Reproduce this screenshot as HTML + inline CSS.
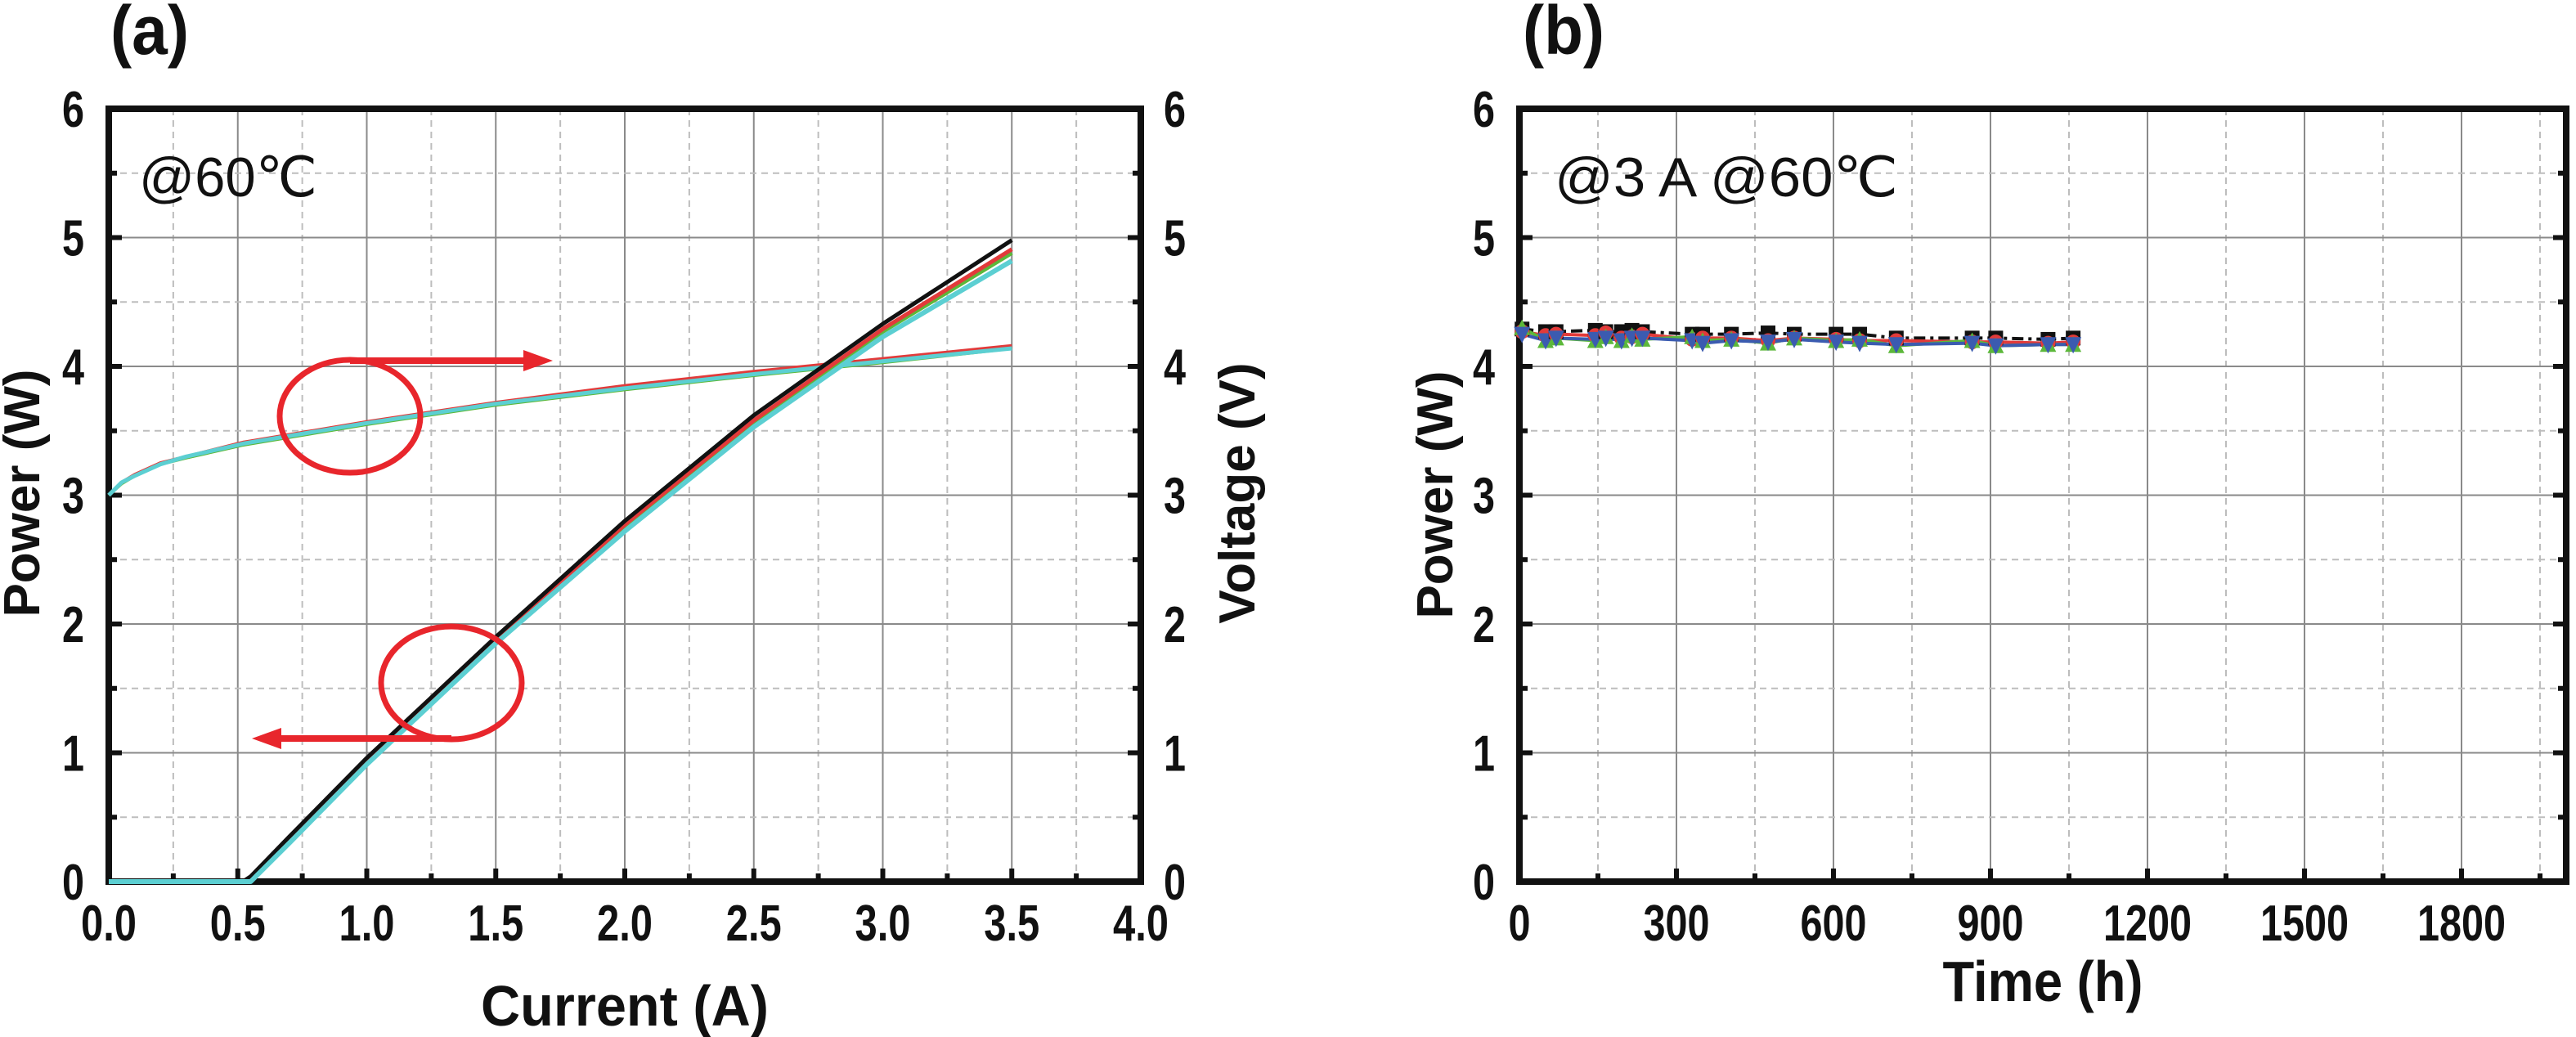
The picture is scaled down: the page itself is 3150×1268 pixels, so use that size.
<!DOCTYPE html>
<html><head><meta charset="utf-8"><style>
html,body{margin:0;padding:0;background:#fff}
svg{display:block}
text{font-family:"Liberation Sans Narrow","Liberation Sans",sans-serif;font-weight:bold;fill:#111}
</style></head><body>
<svg id="fig" width="3150" height="1268" viewBox="0 0 3150 1268" xmlns="http://www.w3.org/2000/svg">
<g id="pa"></g>
<g id="pb"></g>
</svg>
<script>
// Panel (a) data
const aCurrent = [0,0.05,0.1,0.2,0.3,0.5,0.52,0.55,0.7,1.0,1.5,2.0,2.5,3.0,3.5];
const aPowerBlack = [0,0,0,0,0,0,0,0.04,0.35,0.96,1.9,2.8,3.62,4.33,4.98];
const aPowerRed   = [0,0,0,0,0,0,0,0.03,0.33,0.94,1.88,2.77,3.58,4.29,4.91];
const aPowerGreen = [0,0,0,0,0,0,0,0.01,0.31,0.92,1.86,2.73,3.55,4.27,4.88];
const aPowerCyan  = [0,0,0,0,0,0,0,0,0.3,0.91,1.85,2.72,3.53,4.23,4.82];
const aVoltRed    = [3.0,3.1,3.16,3.25,3.3,3.4,3.41,3.42,3.47,3.57,3.72,3.85,3.96,4.06,4.16];
const aVoltGreen  = [3.0,3.09,3.15,3.24,3.29,3.38,3.39,3.4,3.45,3.55,3.7,3.82,3.93,4.03,4.14];
const aVoltCyan   = [3.0,3.1,3.15,3.24,3.3,3.39,3.4,3.41,3.46,3.56,3.71,3.83,3.94,4.04,4.14];
const aXTicks = ["0.0","0.5","1.0","1.5","2.0","2.5","3.0","3.5","4.0"];
const aYTicks = ["0","1","2","3","4","5","6"];
// Panel (b) data
const bTime = [5,50,70,145,165,195,215,235,330,350,405,475,525,605,650,720,865,910,1010,1058];
const bBlack = [4.29,4.27,4.27,4.28,4.27,4.27,4.28,4.27,4.25,4.25,4.25,4.26,4.25,4.25,4.25,4.22,4.22,4.22,4.21,4.22];
const bRed   = [4.27,4.24,4.25,4.24,4.26,4.22,4.23,4.25,4.21,4.22,4.22,4.2,4.22,4.21,4.2,4.2,4.19,4.19,4.18,4.19];
const bGreen = [4.3,4.2,4.22,4.2,4.23,4.2,4.24,4.21,4.23,4.2,4.21,4.18,4.22,4.2,4.21,4.16,4.2,4.16,4.17,4.17];
const bBlue  = [4.25,4.2,4.22,4.21,4.22,4.2,4.22,4.22,4.2,4.18,4.2,4.19,4.21,4.19,4.18,4.17,4.18,4.16,4.17,4.17];
const bXTicks = ["0","300","600","900","1200","1500","1800"];
const bYTicks = ["0","1","2","3","4","5","6"];

const NS="http://www.w3.org/2000/svg";
function mk(parent,tag,attrs,txt){const e=document.createElementNS(NS,tag);for(const k in attrs)e.setAttribute(k,attrs[k]);if(txt!==undefined)e.textContent=txt;parent.appendChild(e);return e;}
function tlen(s){let w=0;for(const c of s)w+=(c==='.'?14:27);return w;}

const Y0=1078, Y6=133;
const yS=v=>Y0-(v/6)*(Y0-Y6);

function frame(g,L,R,xmax,xMajor,xMinor,xLabels,yLabels,rightLabels,name){
  for(let v=xMinor;v<xmax-1e-9;v+=xMinor){
    const x=L+(v/xmax)*(R-L);
    const major=Math.abs(v/xMajor-Math.round(v/xMajor))<1e-6;
    const ln=mk(g,'line',{x1:x,x2:x,y1:Y6,y2:Y0,stroke:major?'#8a8a8a':'#bdbdbd','stroke-width':2,'stroke-dasharray':major?'none':'8 6'});
    
    
  }
  for(let v=0.5;v<6;v+=0.5){
    const y=yS(v);const major=Math.abs(v-Math.round(v))<1e-6;
    const ln=mk(g,'line',{x1:L,x2:R,y1:y,y2:y,stroke:major?'#8a8a8a':'#bdbdbd','stroke-width':2,'stroke-dasharray':major?'none':'8 6'});
    
    
  }
  for(let v=0;v<=xmax+1e-9;v+=xMinor){
    const x=L+(v/xmax)*(R-L);
    const major=Math.abs(v/xMajor-Math.round(v/xMajor))<1e-6;
    const t=mk(g,'line',{x1:x,x2:x,y1:Y0,y2:Y0-(major?16:10),stroke:'#111','stroke-width':6});
    
    
  }
  for(let v=0;v<=6;v+=0.5){
    const y=yS(v);const major=Math.abs(v-Math.round(v))<1e-6;
    const len=major?16:10;
    const t1=mk(g,'line',{x1:L,x2:L+len,y1:y,y2:y,stroke:'#111','stroke-width':6});
    
    
    const t2=mk(g,'line',{x1:R,x2:R-len,y1:y,y2:y,stroke:'#111','stroke-width':6});
    
    
  }
  const fr=mk(g,'rect',{x:L,y:Y6,width:R-L,height:Y0-Y6,fill:'none',stroke:'#111','stroke-width':8});
  
  
  xLabels.forEach((s,i)=>{
    const x=L+(i*xMajor/xmax)*(R-L);
    const t=mk(g,'text',{x:x,y:1150,'font-size':62,'text-anchor':'middle',textLength:tlen(s),lengthAdjust:'spacingAndGlyphs'},s);
    
    
  });
  yLabels.forEach((s,i)=>{
    const t=mk(g,'text',{x:L-30,y:yS(i)+22,'font-size':62,'text-anchor':'end',textLength:tlen(s),lengthAdjust:'spacingAndGlyphs'},s);
    
    
    if(rightLabels){
      const t2=mk(g,'text',{x:R+28,y:yS(i)+22,'font-size':62,'text-anchor':'start',textLength:tlen(s),lengthAdjust:'spacingAndGlyphs'},s);
      
      
    }
  });
}
function line(g,xs,ys,xf,color,w,name,dash){
  const d=xs.map((x,i)=>(i?'L':'M')+xf(x).toFixed(1)+' '+yS(ys[i]).toFixed(1)).join(' ');
  const p=mk(g,'path',{d:d,fill:'none',stroke:color,'stroke-width':w,'stroke-linejoin':'round','stroke-dasharray':dash||'none'});
  
  
}

// ---------- Panel a ----------
const ga=document.getElementById('pa');
const aL=133,aR=1395;
const axf=v=>aL+(v/4)*(aR-aL);
frame(ga,aL,aR,4,0.5,0.25,aXTicks,aYTicks,true,'panel-a');
line(ga,aCurrent,aVoltRed,axf,'#e23a3a',4,'voltage-line-red');
line(ga,aCurrent,aVoltGreen,axf,'#5cb83a',4,'voltage-line-green');
line(ga,aCurrent,aVoltCyan,axf,'#5ccfd2',5,'voltage-line-cyan');
line(ga,aCurrent,aPowerGreen,axf,'#5cb83a',5,'power-line-green');
line(ga,aCurrent,aPowerRed,axf,'#e23a3a',5,'power-line-red');
line(ga,aCurrent,aPowerBlack,axf,'#111111',5,'power-line-black');
line(ga,aCurrent,aPowerCyan,axf,'#5ccfd2',6,'power-line-cyan');
mk(ga,'ellipse',{cx:428,cy:509,rx:86,ry:69,fill:'none',stroke:'#e8262c','stroke-width':7,});
mk(ga,'line',{x1:428,x2:645,y1:441,y2:441,stroke:'#e8262c','stroke-width':8,});
mk(ga,'polygon',{points:'640,428 676,441 640,454',fill:'#e8262c',});
mk(ga,'ellipse',{cx:552,cy:835,rx:86,ry:69,fill:'none',stroke:'#e8262c','stroke-width':7,});
mk(ga,'line',{x1:552,x2:340,y1:903,y2:903,stroke:'#e8262c','stroke-width':8,});
mk(ga,'polygon',{points:'344,890 308,903 344,916',fill:'#e8262c',});
mk(ga,'text',{x:170,y:240,'font-size':68,style:'font-weight:normal',textLength:218,lengthAdjust:'spacingAndGlyphs',},'@60℃');
mk(ga,'text',{x:135,y:66,'font-size':84,textLength:96,lengthAdjust:'spacingAndGlyphs',},'(a)');
mk(ga,'text',{x:764,y:1254,'font-size':70,'text-anchor':'middle',textLength:352,lengthAdjust:'spacingAndGlyphs',},'Current (A)');
mk(ga,'text',{x:0,y:0,'font-size':62,'text-anchor':'middle',transform:'translate(48,603) rotate(-90)',style:'font-family:"Liberation Sans",sans-serif',},'Power (W)');
mk(ga,'text',{x:0,y:0,'font-size':62,'text-anchor':'middle',transform:'translate(1534,603) rotate(-90)',style:'font-family:"Liberation Sans",sans-serif',},'Voltage (V)');

// ---------- Panel b ----------
const gb=document.getElementById('pb');
const bL=1858,bR=3138;
const bxf=v=>bL+(v/2000)*(bR-bL);
frame(gb,bL,bR,2000,300,150,bXTicks,bYTicks,false,'panel-b');
line(gb,bTime,bBlack,bxf,'#111',4,'series-black-line','14 6 4 6');
line(gb,bTime,bRed,bxf,'#e23a3a',4,'series-red-line');
line(gb,bTime,bGreen,bxf,'#5cb83a',4,'series-green-line');
line(gb,bTime,bBlue,bxf,'#3b5bb0',4,'series-blue-line');
bTime.forEach((t,i)=>{
  const x=bxf(t);
  let y=yS(bBlack[i]);
  const s=mk(gb,'rect',{x:x-9,y:y-9,width:18,height:18,fill:'#111'});
  
  
  y=yS(bRed[i]);
  const c=mk(gb,'circle',{cx:x,cy:y,r:9,fill:'#e23a3a'});
  
  
  y=yS(bGreen[i]);
  const tg=mk(gb,'polygon',{points:`${x-10},${y+9} ${x+10},${y+9} ${x},${y-10}`,fill:'#5cb83a'});
  
  
  y=yS(bBlue[i]);
  const tb=mk(gb,'polygon',{points:`${x-10},${y-9} ${x+10},${y-9} ${x},${y+11}`,fill:'#3b5bb0'});
  
  
});
mk(gb,'text',{x:1901,y:240,'font-size':68,style:'font-weight:normal',textLength:420,lengthAdjust:'spacingAndGlyphs',},'@3 A @60℃');
mk(gb,'text',{x:1862,y:66,'font-size':84,textLength:100,lengthAdjust:'spacingAndGlyphs',},'(b)');
mk(gb,'text',{x:2498,y:1224,'font-size':70,'text-anchor':'middle',textLength:245,lengthAdjust:'spacingAndGlyphs',},'Time (h)');
mk(gb,'text',{x:0,y:0,'font-size':62,'text-anchor':'middle',transform:'translate(1776,605) rotate(-90)',style:'font-family:"Liberation Sans",sans-serif',},'Power (W)');
</script>
</body></html>
